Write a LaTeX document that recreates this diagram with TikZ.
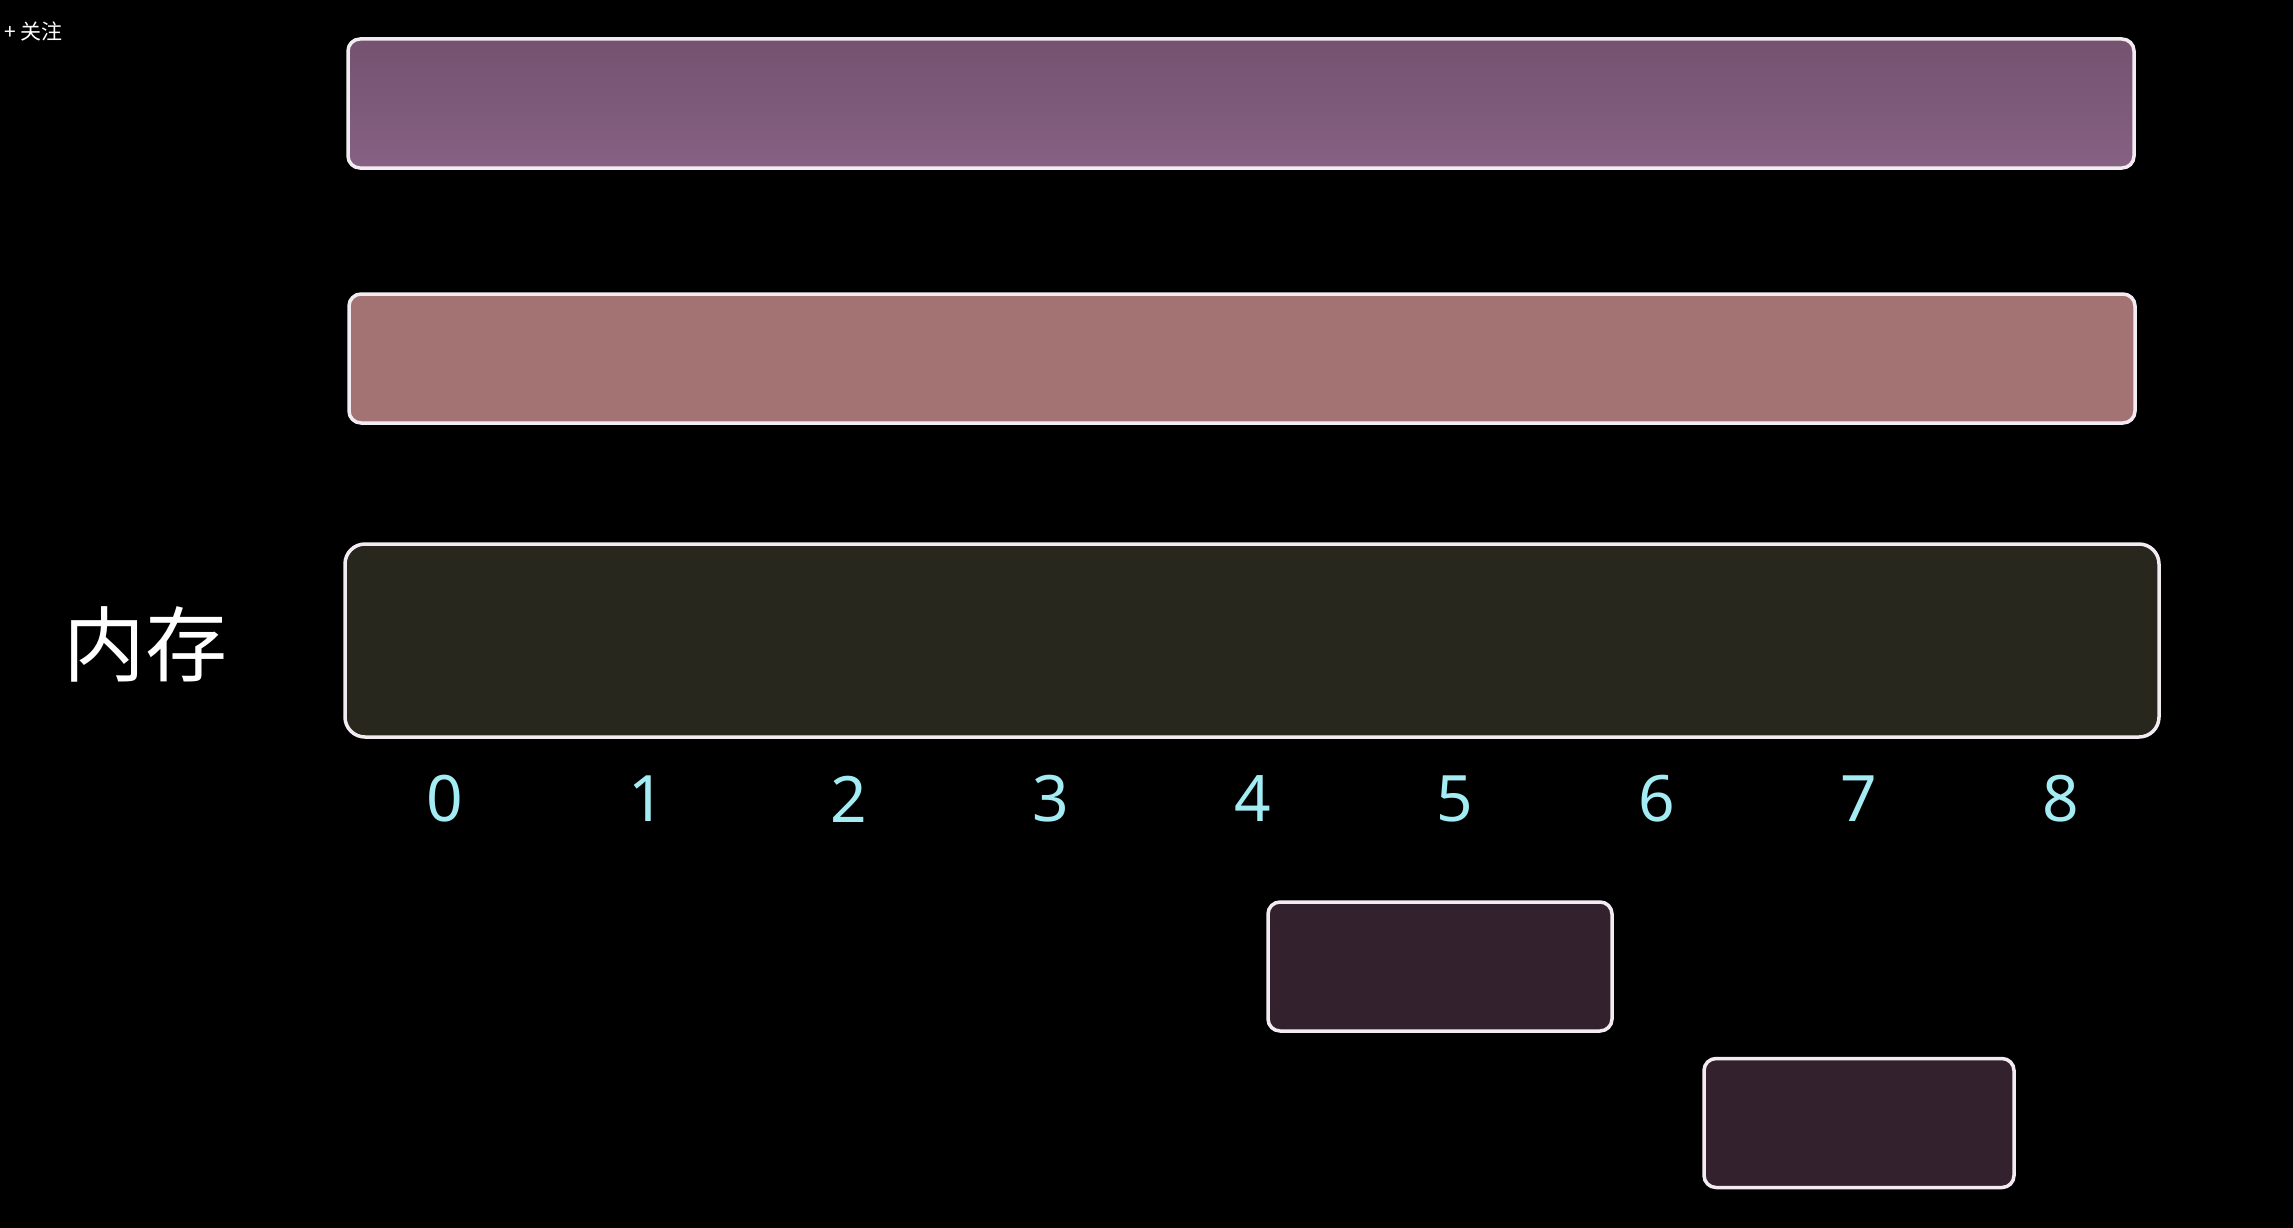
\documentclass[tikz,border=0pt]{standalone}
\usepackage{fontspec}
\setmainfont{Noto Sans}
\newfontfamily\cjk{Noto Sans CJK SC}
\definecolor{bgblack}{HTML}{000000}
\definecolor{edgewhite}{HTML}{F2ECF2}
\definecolor{purpletop}{HTML}{755270}
\definecolor{purplebot}{HTML}{866183}
\definecolor{rosefill}{HTML}{A37373}
\definecolor{memfill}{HTML}{28271E}
\definecolor{smallfill}{HTML}{33222D}
\definecolor{digitcyan}{HTML}{A4ECF4}
\tikzset{
  barbox/.style={draw=edgewhite, line width=3.5pt, rounded corners=12pt, inner sep=0pt},
  membox/.style={draw=edgewhite, line width=3.5pt, rounded corners=20pt, inner sep=0pt, fill=memfill},
  smallbox/.style={draw=edgewhite, line width=3.5pt, rounded corners=12pt, inner sep=0pt, fill=smallfill},
  digit/.style={text=digitcyan, font=\fontsize{64}{70}\selectfont, inner sep=0pt},
}
\begin{document}
\begin{tikzpicture}[x=1pt,y=-1pt]
\fill[bgblack] (0,0) rectangle (2293,1228);
\useasboundingbox (0,0) rectangle (2293,1228);
% top-left label
\node[text=white, font=\cjk\fontsize{21}{24}\selectfont, anchor=west, inner sep=0pt] (follow) at (4,31) {+\hspace{5pt}关注};
% bars
\node[barbox, top color=purpletop, bottom color=purplebot, minimum width=1786pt, minimum height=129pt] (bar1) at (1241,103.5) {};
\node[barbox, fill=rosefill, minimum width=1786pt, minimum height=129pt] (bar2) at (1242,358.5) {};
\node[membox, minimum width=1814pt, minimum height=193pt] (mem) at (1252,640.5) {};
\node[text=white, font=\cjk\fontsize{82}{86}\selectfont, inner sep=0pt] (memlabel) at (145,644) {内存};
% digits
\foreach \i/\x in {0/445,1/647,2/849,3/1051,4/1253,5/1455,6/1657,7/1859,8/2061} {
  \node[digit] (d\i) at (\x,799) {\i};
}
% small boxes
\node[smallbox, minimum width=344pt, minimum height=129pt] (s1) at (1440,966.5) {};
\node[smallbox, minimum width=310pt, minimum height=129pt] (s2) at (1859,1123) {};
\end{tikzpicture}
\end{document}
